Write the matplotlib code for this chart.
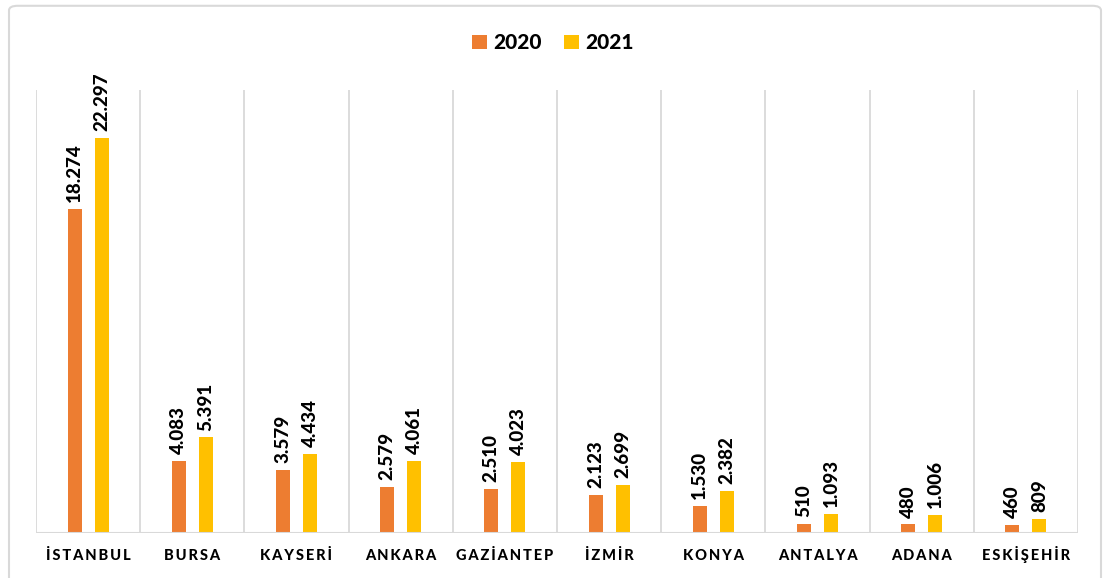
import matplotlib.pyplot as plt
from matplotlib.patches import FancyBboxPatch
import numpy as np

# Şehirlere göre 2020 ve 2021 değerleri
cities = ["İSTANBUL", "BURSA", "KAYSERİ", "ANKARA", "GAZİANTEP",
          "İZMİR", "KONYA", "ANTALYA", "ADANA", "ESKİŞEHİR"]
vals_2020 = [18274, 4083, 3579, 2579, 2510, 2123, 1530, 510, 480, 460]
vals_2021 = [22297, 5391, 4434, 4061, 4023, 2699, 2382, 1093, 1006, 809]
years = ["2020", "2021"]
colors = ["#ED7D31", "#FFC000"]

plt.rcParams['font.family'] = ['Lato', 'DejaVu Sans']


def fmt(v):
    # binlik ayırıcı olarak nokta
    return f"{v:,}".replace(",", ".")


fig = plt.figure(figsize=(11.06, 5.78), dpi=100)
ax = fig.add_axes([36 / 1106, 45 / 578, 1042 / 1106, 443 / 578])

n = len(cities)
x = np.arange(n)
w = 0.135
off = 0.13

for i, (vals, col, lab) in enumerate(zip([vals_2020, vals_2021], colors, years)):
    xs = x + (-off if i == 0 else off)
    ax.bar(xs, vals, width=w, color=col, label=lab, zorder=3)
    for xi, v in zip(xs, vals):
        ax.annotate(fmt(v), (xi, v), xytext=(0, 5), textcoords="offset points",
                    rotation=90, ha="center", va="bottom",
                    fontsize=13.5, fontweight="black", color="#000000")

ax.set_xlim(-0.5, n - 0.5)
ax.set_ylim(0, 25000)

# kategori sınırlarında dikey çizgiler
for b in np.arange(-0.5, n, 1.0):
    ax.axvline(b, color="#D9D9D9", lw=1.3, zorder=1)
ax.axhline(0, color="#D9D9D9", lw=1.5, zorder=4)

for s in ax.spines.values():
    s.set_visible(False)
ax.set_yticks([])
ax.set_xticks([])

# harf aralıklı şehir adları, ortak taban çizgisinde
for xi, c in zip(x, cities):
    ax.text(xi, -0.06, "\u2009".join(c), transform=ax.get_xaxis_transform(),
            ha="center", va="baseline", fontsize=10.5, fontweight="black",
            color="#000000")

leg = fig.legend(loc="upper center", bbox_to_anchor=(0.5, 0.975), ncol=2,
                 frameon=False, fontsize=15, handlelength=0.7,
                 handleheight=0.7, columnspacing=1.1, handletextpad=0.3)
for t in leg.get_texts():
    t.set_fontweight("black")

# grafik çerçevesi
frame = FancyBboxPatch((9 / 1106, -0.05), 1092 / 1106, 1.04,
                       boxstyle="round,pad=0,rounding_size=0.008",
                       transform=fig.transFigure, fill=False,
                       edgecolor="#D9D9D9", lw=1.5)
fig.patches.append(frame)

fig.savefig("out.png", dpi=100)
